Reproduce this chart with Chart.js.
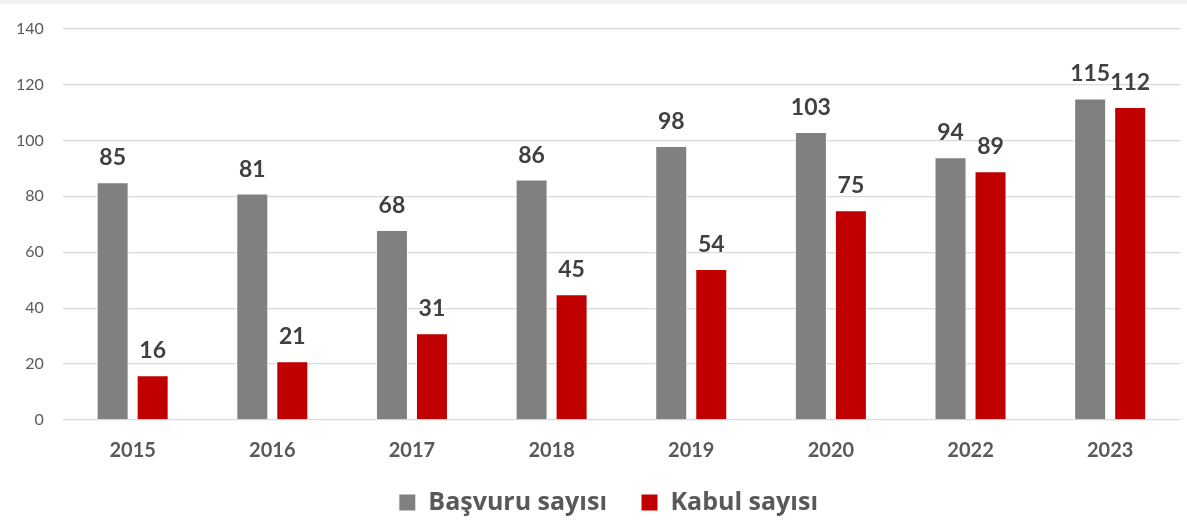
<!DOCTYPE html>
<html>
<head>
<meta charset="utf-8">
<script src="https://cdn.jsdelivr.net/npm/chart.js@4"></script>
<style>
  html, body { margin: 0; padding: 0; background: #fff; }
  .band { height: 4px; background: #f2f2f2; }
  .wrap { position: relative; width: 1187px; height: 520px; margin-top: -4px; }
</style>
</head>
<body>
<div class="band"></div>
<div class="wrap"><canvas id="chart"></canvas></div>
<script>
const years = ['2015', '2016', '2017', '2018', '2019', '2020', '2022', '2023'];
const basvuru = [85, 81, 68, 86, 98, 103, 94, 115];
const kabul = [16, 21, 31, 45, 54, 75, 89, 112];
const yTicks = [0, 20, 40, 60, 80, 100, 120, 140];

// draws the value above every bar
const barLabels = {
    id: 'barLabels',
    afterDatasetsDraw(chart) {
        const ctx = chart.ctx;
        ctx.save();
        ctx.font = 'bold 23px Lato';
        ctx.fillStyle = '#404040';
        ctx.textAlign = 'center';
        ctx.textBaseline = 'alphabetic';
        chart.data.datasets.forEach((ds, i) => {
            chart.getDatasetMeta(i).data.forEach((bar, j) => {
                ctx.fillText(ds.data[j], bar.x, bar.y - 17);
            });
        });
        ctx.restore();
    }
};

new Chart(document.getElementById('chart'), {
    type: 'bar',
    data: {
        labels: years,
        datasets: [{
            label: 'Başvuru sayısı',
            data: basvuru,
            backgroundColor: '#808080',
            borderColor: '#ffffff',
            borderWidth: 1
        }, {
            label: 'Kabul sayısı',
            data: kabul,
            backgroundColor: '#c00000',
            borderColor: '#ffffff',
            borderWidth: 1
        }]
    },
    options: {
        responsive: true,
        maintainAspectRatio: false,
        animation: false,
        datasets: {
            bar: { categoryPercentage: 0.573, barPercentage: 0.8 }
        },
        layout: { autoPadding: false, padding: { top: 14, right: 7, left: -3, bottom: -5 } },
        scales: {
            y: {
                min: 0,
                max: 140,
                afterBuildTicks: axis => { axis.ticks = yTicks.map(v => ({ value: v })); },
                border: { display: false },
                grid: { color: '#d9d9d9', lineWidth: 1.3, drawTicks: false },
                ticks: { color: '#595959', font: { family: 'Lato', size: 16 }, padding: 19 }
            },
            x: {
                border: { display: false },
                grid: { display: false, drawTicks: false },
                ticks: { color: '#595959', font: { family: 'Lato', size: 20, weight: 'bold' }, padding: 19 }
            }
        },
        plugins: {
            tooltip: { enabled: false },
            legend: {
                position: 'bottom',
                fullSize: false,
                labels: {
                    color: '#595959',
                    font: { family: 'Open Sans', size: 25, weight: 'bold' },
                    boxWidth: 17,
                    boxHeight: 17,
                    padding: 8,
                    // trailing spaces set the gap between entries and nudge the row left
                    generateLabels: chart => Chart.defaults.plugins.legend.labels.generateLabels(chart)
                        .map(item => Object.assign(item, { text: item.text + '    ' }))
                }
            }
        }
    },
    plugins: [barLabels]
});
</script>
</body>
</html>
